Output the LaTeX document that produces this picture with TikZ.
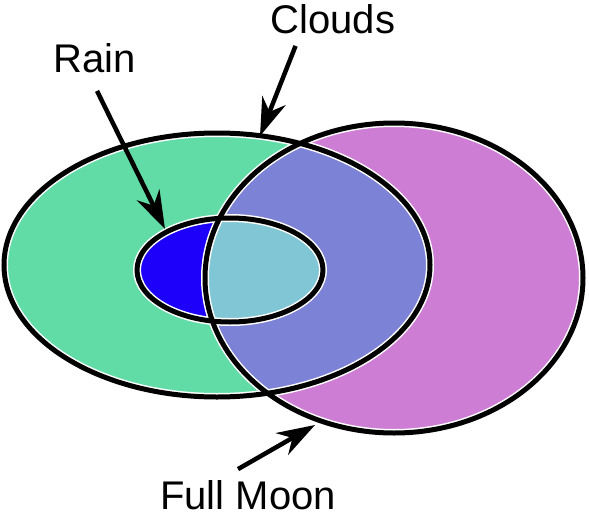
\documentclass[tikz,border=0pt]{standalone}
\usepackage{fontspec}
\setmainfont{Liberation Sans}
\usetikzlibrary{arrows.meta}

\definecolor{cloudgreen}{RGB}{98,220,167}
\definecolor{moonpurple}{RGB}{205,126,212}
\definecolor{cloudmoon}{RGB}{124,130,213}
\definecolor{rainblue}{RGB}{28,0,250}
\definecolor{rainmoon}{RGB}{128,198,213}

\tikzset{
  cloudsoval/.style={insert path={(217,265) ellipse [x radius=213, y radius=132]}},
  moonoval/.style={insert path={(394,278) ellipse [x radius=189, y radius=155]}},
  rainoval/.style={insert path={(230,270) ellipse [x radius=93, y radius=52]}},
  lbl/.style={inner sep=0pt, font=\fontsize{40}{48}\selectfont},
  pointer/.style={line width=4.5pt, -{Stealth[length=38pt, width=25pt, inset=12pt]}}
}

\begin{document}
\begin{tikzpicture}[x=1pt,y=-1pt]
  \useasboundingbox (0,0) rectangle (589,517);

  % regions
  \fill[cloudgreen, cloudsoval];
  \fill[moonpurple, moonoval];
  \begin{scope}
    \clip[moonoval];
    \fill[cloudmoon, cloudsoval];
  \end{scope}
  \fill[rainblue, rainoval];
  \begin{scope}
    \clip[moonoval];
    \fill[rainmoon, rainoval];
  \end{scope}

  % outlines
  \foreach \o in {cloudsoval,moonoval,rainoval}
    \draw[white, line width=8pt, \o];
  \foreach \o in {cloudsoval,moonoval,rainoval}
    \draw[black, line width=5pt, \o];

  % labels
  \node[lbl] (cloudslbl) at (333,19) {Clouds};
  \node[lbl] (rainlbl) at (95,58) {Rain};
  \node[lbl] (moonlbl) at (248,495) {Full Moon};

  \coordinate (cloudstip) at (260,136);
  \coordinate (raintip) at (165,229);
  \coordinate (moontip) at (315,425);

  \draw[pointer] ([shift={(25,12)}]cloudslbl.south west) -- (cloudstip);
  \draw[pointer] ([shift={(2,18)}]rainlbl.south) -- (raintip);
  \draw[pointer] ([shift={(-10,-11)}]moonlbl.north) -- (moontip);
\end{tikzpicture}
\end{document}
